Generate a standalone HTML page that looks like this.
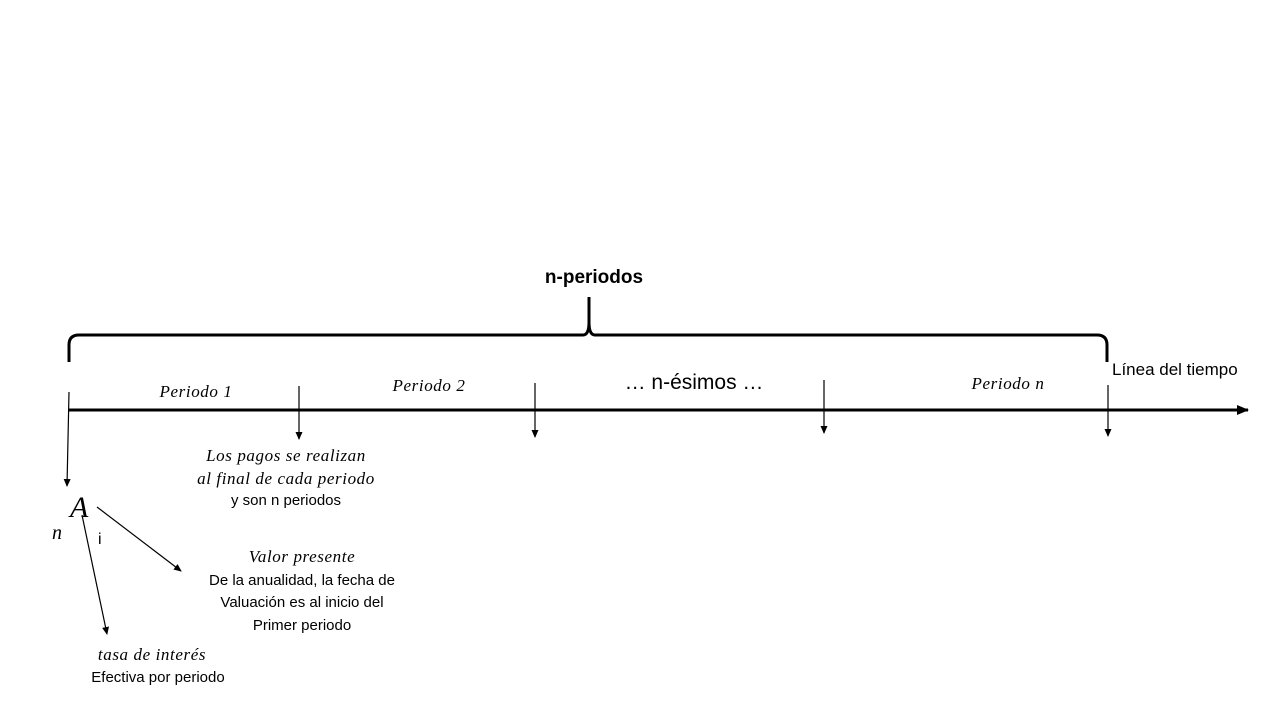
<!DOCTYPE html>
<html><head><style>body{margin:0;background:#fff}</style></head><body>
<svg width="1280" height="720" xmlns="http://www.w3.org/2000/svg">
<defs><marker id="a" markerWidth="8" markerHeight="8" refX="7" refY="4" orient="auto" markerUnits="userSpaceOnUse"><path d="M0,0.5 L8,4 L0,7.5z" fill="#000"/></marker>
<marker id="b" markerWidth="12" markerHeight="12" refX="11" refY="6" orient="auto" markerUnits="userSpaceOnUse"><path d="M0,1 L12,6 L0,11z" fill="#000"/></marker></defs>
<rect width="1280" height="720" fill="#fff"/>
<path d="M69,362 L69,345 Q69,335 79,335 L583,335 Q589,335 589,322 L589,297 L589,322 Q589,335 595,335 L1097,335 Q1107,335 1107,345 L1107,362" fill="none" stroke="#000" stroke-width="3"/>
<line x1="69" y1="410" x2="1248" y2="410" stroke="#000" stroke-width="3" marker-end="url(#b)"/>
<g stroke="#000" stroke-width="1.2" marker-end="url(#a)">
<line x1="69" y1="392" x2="67" y2="486"/>
<line x1="299" y1="386" x2="299" y2="439"/>
<line x1="535" y1="383" x2="535" y2="437"/>
<line x1="824" y1="380" x2="824" y2="433"/>
<line x1="1108" y1="385" x2="1108" y2="436"/>
<line x1="97" y1="507" x2="181" y2="571"/>
<line x1="82" y1="515" x2="107" y2="634"/>
</g>
<g font-family="Liberation Sans, sans-serif" fill="#000">
<text x="594" y="283" font-size="19" font-weight="bold" text-anchor="middle">n-periodos</text>
<text x="694" y="389" font-size="21" text-anchor="middle">… n-ésimos …</text>
<text x="1112" y="375" font-size="17">Línea del tiempo</text>
<text x="286" y="505" font-size="15" text-anchor="middle">y son n periodos</text>
<text x="98" y="544" font-size="16">i</text>
<text x="302" y="585" font-size="15" text-anchor="middle">De la anualidad, la fecha de</text>
<text x="302" y="607" font-size="15" text-anchor="middle">Valuación es al inicio del</text>
<text x="302" y="630" font-size="15" text-anchor="middle">Primer periodo</text>
<text x="158" y="682" font-size="15" text-anchor="middle">Efectiva por periodo</text>
</g>
<g font-family="Liberation Serif, serif" font-style="italic" fill="#000" font-size="17" letter-spacing="0.6">
<text x="196" y="397" text-anchor="middle">Periodo 1</text>
<text x="429" y="391" text-anchor="middle">Periodo 2</text>
<text x="1008" y="389" text-anchor="middle">Periodo n</text>
<text x="286" y="461" text-anchor="middle">Los pagos se realizan</text>
<text x="286" y="484" text-anchor="middle">al final de cada periodo</text>
<text x="302" y="562" text-anchor="middle">Valor presente</text>
<text x="152" y="660" text-anchor="middle">tasa de interés</text>
<text x="52" y="539" font-size="20">n</text>
<text x="70" y="517" font-size="30">A</text>
</g>
</svg>
</body></html>
